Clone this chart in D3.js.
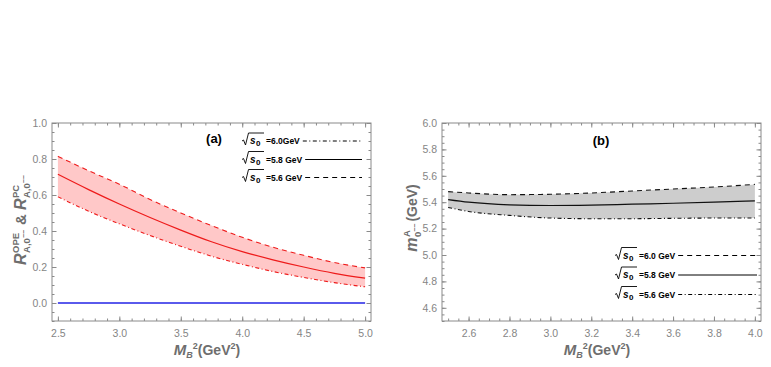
<!DOCTYPE html>
<html>
<head>
<meta charset="utf-8">
<script src="https://cdn.jsdelivr.net/npm/d3@7"></script>
<style>
  body { margin: 0; background: #fff; }
  text { font-family: "Liberation Sans", Arial, sans-serif; }
</style>
</head>
<body>
<div id="chart"></div>
<script>
// ---- panel (a) data ----
var mbA      = [2.5, 2.75, 3.0, 3.25, 3.5, 3.75, 4.0, 4.25, 4.5, 4.75, 5.0];
var upperA   = [0.815, 0.735, 0.66, 0.575, 0.50, 0.43, 0.365, 0.31, 0.265, 0.225, 0.195];
var centerA  = [0.715, 0.63, 0.55, 0.475, 0.405, 0.34, 0.285, 0.24, 0.20, 0.165, 0.138];
var lowerA   = [0.59, 0.51, 0.44, 0.375, 0.315, 0.26, 0.215, 0.175, 0.142, 0.113, 0.09];
var pcA      = [0, 0, 0, 0, 0, 0, 0, 0, 0, 0, 0];
var xTicksA  = [2.5, 3.0, 3.5, 4.0, 4.5, 5.0];
var yTicksA  = [0.0, 0.2, 0.4, 0.6, 0.8, 1.0];
var legendA  = ["=6.0GeV", "=5.8 GeV", "=5.6 GeV"];

// ---- panel (b) data ----
var mbB      = [2.5, 2.6, 2.8, 3.0, 3.2, 3.4, 3.6, 3.8, 4.0];
var upperB   = [5.48, 5.47, 5.457, 5.46, 5.47, 5.485, 5.50, 5.515, 5.535];
var centerB  = [5.42, 5.40, 5.38, 5.375, 5.378, 5.385, 5.392, 5.40, 5.41];
var lowerB   = [5.36, 5.33, 5.30, 5.28, 5.275, 5.275, 5.278, 5.28, 5.28];
var xTicksB  = [2.6, 2.8, 3.0, 3.2, 3.4, 3.6, 3.8, 4.0];
var yTicksB  = [4.6, 4.8, 5.0, 5.2, 5.4, 5.6, 5.8, 6.0];
var legendB  = ["=6.0 GeV", "=5.8 GeV", "=5.6 GeV"];

const W = 771, H = 367;
const DASH = "5,4";
const DASHDOT = "4,2.5,1,2.5";

var svg = d3.select("#chart")
    .append("svg")
        .attr("width", W)
        .attr("height", H);

function drawPanel(p) {
    var x = d3.scaleLinear().domain(p.xDomain).range([p.left, p.right]);
    var y = d3.scaleLinear().domain(p.yDomain).range([p.bottom, p.top]);
    var g = svg.append("g");

    // band
    var rows = p.xs.map(function(v, i) {
        return {x: v, u: p.upper[i], c: p.center[i], l: p.lower[i]};
    });
    g.append("path")
        .datum(rows)
        .attr("fill", p.bandFill)
        .attr("d", d3.area().curve(d3.curveMonotoneX)
            .x(d => x(d.x)).y0(d => y(d.l)).y1(d => y(d.u)));

    var line = key => d3.line().curve(d3.curveMonotoneX)
        .x(d => x(d.x)).y(d => y(d[key]));

    g.append("path").datum(rows).attr("fill", "none")
        .attr("stroke", p.lineColor).attr("stroke-width", 1.1)
        .attr("stroke-dasharray", p.upperDash).attr("d", line("u"));
    g.append("path").datum(rows).attr("fill", "none")
        .attr("stroke", p.lineColor).attr("stroke-width", 1.1)
        .attr("stroke-dasharray", p.lowerDash).attr("d", line("l"));
    g.append("path").datum(rows).attr("fill", "none")
        .attr("stroke", p.lineColor).attr("stroke-width", 1.2)
        .attr("d", line("c"));

    if (p.extra) {
        g.append("path")
            .datum(p.xs.map((v, i) => ({x: v, c: p.extra[i]})))
            .attr("fill", "none")
            .attr("stroke", "#2323e6")
            .attr("stroke-width", 1.5)
            .attr("d", line("c"));
    }

    // frame
    g.append("rect")
        .attr("x", p.left).attr("y", p.top)
        .attr("width", p.right - p.left).attr("height", p.bottom - p.top)
        .attr("fill", "none").attr("stroke", "#8a8a8a").attr("stroke-width", 1);

    var minorX = d3.range(Math.ceil(p.xDomain[0] / p.xMinor - 1e-6), Math.floor(p.xDomain[1] / p.xMinor + 1e-6) + 1).map(k => k * p.xMinor);
    var minorY = d3.range(Math.ceil(p.yDomain[0] / p.yMinor - 1e-6), Math.floor(p.yDomain[1] / p.yMinor + 1e-6) + 1).map(k => k * p.yMinor);

    function styleAxis(sel) {
        sel.select(".domain").remove();
        sel.selectAll("line").attr("stroke", "#8a8a8a");
        sel.selectAll("text")
            .style("font-family", "Liberation Sans, Arial, sans-serif")
            .style("font-size", "10.5px")
            .attr("fill", "#858585");
    }

    // bottom
    g.append("g").attr("transform", `translate(0,${p.bottom})`)
        .call(d3.axisBottom(x).tickValues(minorX).tickSize(-2.5).tickFormat(""))
        .call(styleAxis);
    g.append("g").attr("transform", `translate(0,${p.bottom})`)
        .call(d3.axisBottom(x).tickValues(p.xTicks).tickSize(-4.5).tickPadding(9)
            .tickFormat(d3.format(".1f")))
        .call(styleAxis);
    // top
    g.append("g").attr("transform", `translate(0,${p.top})`)
        .call(d3.axisTop(x).tickValues(minorX).tickSize(-2.5).tickFormat(""))
        .call(styleAxis);
    g.append("g").attr("transform", `translate(0,${p.top})`)
        .call(d3.axisTop(x).tickValues(p.xTicks).tickSize(-4.5).tickFormat(""))
        .call(styleAxis);
    // left
    g.append("g").attr("transform", `translate(${p.left},0)`)
        .call(d3.axisLeft(y).tickValues(minorY).tickSize(-2.5).tickFormat(""))
        .call(styleAxis);
    g.append("g").attr("transform", `translate(${p.left},0)`)
        .call(d3.axisLeft(y).tickValues(p.yTicks).tickSize(-4.5).tickPadding(5)
            .tickFormat(d3.format(".1f")))
        .call(styleAxis);
    // right
    g.append("g").attr("transform", `translate(${p.right},0)`)
        .call(d3.axisRight(y).tickValues(minorY).tickSize(-2.5).tickFormat(""))
        .call(styleAxis);
    g.append("g").attr("transform", `translate(${p.right},0)`)
        .call(d3.axisRight(y).tickValues(p.yTicks).tickSize(-4.5).tickFormat(""))
        .call(styleAxis);

    // panel tag
    g.append("text")
        .attr("x", p.tag[0]).attr("y", p.tag[1])
        .attr("text-anchor", "middle")
        .style("font-size", "13px").style("font-weight", "bold")
        .text(p.tag[2]);

    // legend
    p.legend.forEach(function(lab, i) {
        var ly = p.legendY[i];
        var lg = g.append("g").attr("transform", `translate(${p.legendX},${ly})`);
        lg.append("path")
            .attr("d", "M0,0 L1.5,-1 L3.5,4 L6.5,-8 L22,-8")
            .attr("fill", "none").attr("stroke", "#000").attr("stroke-width", 0.9);
        lg.append("text").attr("x", 8).attr("y", 3)
            .style("font-size", "10px").style("font-style", "italic").style("font-weight", "bold")
            .text("s");
        lg.append("text").attr("x", 14).attr("y", 5)
            .style("font-size", "8px").style("font-weight", "bold")
            .text("0");
        var t = lg.append("text").attr("x", 24).attr("y", 3)
            .style("font-size", "8.5px").style("font-weight", "bold")
            .text(lab);
        var end = 24 + t.node().getComputedTextLength() + 3;
        lg.append("line")
            .attr("x1", end).attr("x2", p.legendEnd - p.legendX)
            .attr("y1", 0).attr("y2", 0)
            .attr("stroke", "#000").attr("stroke-width", 1)
            .attr("stroke-dasharray", p.legendDash[i]);
    });

    // x label
    var xl = g.append("text")
        .attr("x", p.xLabelX).attr("y", 355)
        .attr("text-anchor", "middle")
        .attr("fill", "#6e6e6e")
        .style("font-weight", "bold");
    xl.append("tspan").style("font-size", "15px").style("font-style", "italic").text("M");
    xl.append("tspan").style("font-size", "9px").style("font-style", "italic").attr("dy", 3).text("B");
    xl.append("tspan").style("font-size", "9px").attr("dy", -9).text("2");
    xl.append("tspan").style("font-size", "14px").attr("dy", 6).text("(GeV");
    xl.append("tspan").style("font-size", "9px").attr("dy", -6).text("2");
    xl.append("tspan").style("font-size", "14px").attr("dy", 6).text(")");
}

// stacked super/subscript helper for rotated labels
function mathLabel(gx, gy, pieces) {
    var g = svg.append("g").attr("fill", "#6e6e6e").style("font-weight", "bold");
    var cx = 0;
    pieces.forEach(function(pc) {
        if (pc.t) {
            cx += (pc.pre || 0);
            var t = g.append("text").attr("x", cx).attr("y", 0)
                .style("font-size", pc.s + "px")
                .style("font-style", pc.i ? "italic" : "normal")
                .text(pc.t);
            cx += t.node().getComputedTextLength() + (pc.gap || 0);
        } else {
            var w = 0;
            var sup = g.append("text").attr("x", cx).attr("y", -7)
                .style("font-size", "9.5px").text(pc.sup);
            w = Math.max(w, sup.node().getComputedTextLength());
            var sub = g.append("text").attr("x", cx).attr("y", 4)
                .style("font-size", "9.5px").text(pc.sub);
            var sw = sub.node().getComputedTextLength();
            if (pc.subsup) {
                var ss = g.append("text").attr("x", cx + sw).attr("y", 0)
                    .style("font-size", "7px").text(pc.subsup);
                sw += ss.node().getComputedTextLength();
            }
            w = Math.max(w, sw);
            cx += w + 2;
        }
    });
    g.attr("transform", `translate(${gx},${gy}) rotate(-90) translate(${-cx / 2},0)`);
}

drawPanel({
    left: 52, right: 371, top: 123, bottom: 321,
    xDomain: [2.452, 5.048], yDomain: [-0.1, 1.0],
    xMinor: 0.1, yMinor: 0.05,
    xTicks: xTicksA, yTicks: yTicksA,
    xs: mbA, upper: upperA, center: centerA, lower: lowerA, extra: pcA,
    bandFill: "#ffc8c8", lineColor: "#ee1b1b",
    upperDash: DASH, lowerDash: DASHDOT,
    tag: [214, 143, "(a)"],
    legend: legendA, legendX: 242, legendEnd: 362,
    legendY: [141, 159.5, 177.5],
    legendDash: [DASHDOT, null, DASH],
    xLabelX: 207
});

drawPanel({
    left: 442, right: 761, top: 123, bottom: 321,
    xDomain: [2.47, 4.03], yDomain: [4.5, 6.0],
    xMinor: 0.05, yMinor: 0.05,
    xTicks: xTicksB, yTicks: yTicksB,
    xs: mbB, upper: upperB, center: centerB, lower: lowerB, extra: null,
    bandFill: "#cdcdcd", lineColor: "#111",
    upperDash: DASH, lowerDash: DASHDOT,
    tag: [601, 145, "(b)"],
    legend: legendB, legendX: 615, legendEnd: 757,
    legendY: [255.5, 275, 294.5],
    legendDash: [DASH, null, DASHDOT],
    xLabelX: 597
});

// y labels
mathLabel(26, 219, [
    {t: "R", s: 16, i: true, gap: 0.5},
    {sup: "OPE", sub: "A,0", subsup: "−−"},
    {t: "&", s: 15, pre: 3, gap: 4},
    {t: "R", s: 16, i: true, gap: 0.5},
    {sup: "PC", sub: "A,0", subsup: "−−"}
]);
mathLabel(417, 218, [
    {t: "m", s: 16, i: true, gap: 0.5},
    {sup: "A", sub: "0", subsup: "−−"},
    {t: "(GeV)", s: 14}
]);
</script>
</body>
</html>
